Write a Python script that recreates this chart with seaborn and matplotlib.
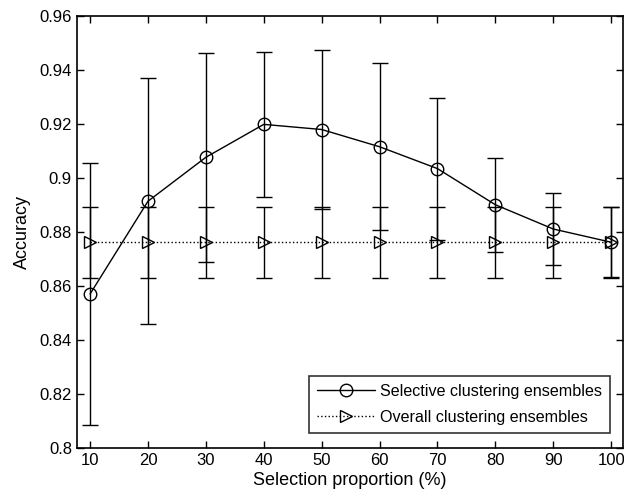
import numpy as np
import pandas as pd
import matplotlib
matplotlib.use("Agg")
import matplotlib.pyplot as plt
import seaborn as sns
from matplotlib.lines import Line2D

proportion = [10, 20, 30, 40, 50, 60, 70, 80, 90, 100]
selective_mean = [0.857, 0.8914, 0.9077, 0.9199, 0.918, 0.9116, 0.9035, 0.8901, 0.8811, 0.8762]
selective_err = [0.0487, 0.0457, 0.0388, 0.027, 0.0296, 0.031, 0.0263, 0.0175, 0.0134, 0.013]
overall_mean = [0.8762] * 10
overall_err = [0.0131] * 10

df = pd.DataFrame({
    "proportion": proportion * 2,
    "accuracy": selective_mean + overall_mean,
    "method": ["Selective clustering ensembles"] * 10 + ["Overall clustering ensembles"] * 10,
})

sns.set_style("ticks")
plt.rcParams["font.family"] = ["Liberation Sans", "DejaVu Sans"]
plt.rcParams["xtick.direction"] = "in"
plt.rcParams["ytick.direction"] = "in"
plt.rcParams["text.color"] = "black"
plt.rcParams["axes.labelcolor"] = "black"
plt.rcParams["xtick.color"] = "black"
plt.rcParams["ytick.color"] = "black"
plt.rcParams["axes.edgecolor"] = "black"

fig, ax = plt.subplots(figsize=(6.24, 4.92), dpi=100)

# error bars first, then the lines with markers
ax.errorbar(proportion, overall_mean, yerr=overall_err, fmt="none", ecolor="black",
            elinewidth=1.0, capsize=5.5, capthick=1.0, zorder=2)
ax.errorbar(proportion, selective_mean, yerr=selective_err, fmt="none", ecolor="black",
            elinewidth=1.0, capsize=5.5, capthick=1.0, zorder=2)

sns.lineplot(data=df[df.method == "Overall clustering ensembles"], x="proportion", y="accuracy",
             ax=ax, color="black", linestyle=":", linewidth=1.0, marker=">", markersize=8,
             markerfacecolor="none", markeredgecolor="black", markeredgewidth=1.0, legend=False, zorder=3)
sns.lineplot(data=df[df.method == "Selective clustering ensembles"], x="proportion", y="accuracy",
             ax=ax, color="black", linestyle="-", linewidth=1.0, marker="o", markersize=9,
             markerfacecolor="none", markeredgecolor="black", markeredgewidth=1.0, legend=False, zorder=3)

ax.set_xlim(7.7, 102)
ax.set_ylim(0.8, 0.96)
ax.set_xticks(proportion)
ax.set_yticks(np.arange(0.8, 0.9601, 0.02))
ax.set_yticklabels(["0.8", "0.82", "0.84", "0.86", "0.88", "0.9", "0.92", "0.94", "0.96"])
ax.tick_params(axis="both", which="both", top=True, right=True, labelsize=12, length=5, width=1)
for s in ax.spines.values():
    s.set_linewidth(1.2)

ax.set_xlabel("Selection proportion (%)", fontsize=13, labelpad=3)
ax.set_ylabel("Accuracy", fontsize=13, labelpad=6)

handles = [
    Line2D([], [], color="black", linestyle="-", linewidth=1.0, marker="o", markersize=9,
           markerfacecolor="none"),
    Line2D([], [], color="black", linestyle=":", linewidth=1.0, marker=">", markersize=8,
           markerfacecolor="none"),
]
leg = ax.legend(handles, ["Selective clustering ensembles", "Overall clustering ensembles"],
                loc="lower right", fontsize=11.6, frameon=True, fancybox=False, edgecolor="black",
                handlelength=3.6, handletextpad=0.3, borderpad=0.5, labelspacing=0.65,
                borderaxespad=0, bbox_to_anchor=(0.977, 0.035))
leg.get_frame().set_linewidth(1.2)

plt.subplots_adjust(left=0.123, right=0.998, top=0.967, bottom=0.09)
plt.savefig("out.png", dpi=100)
